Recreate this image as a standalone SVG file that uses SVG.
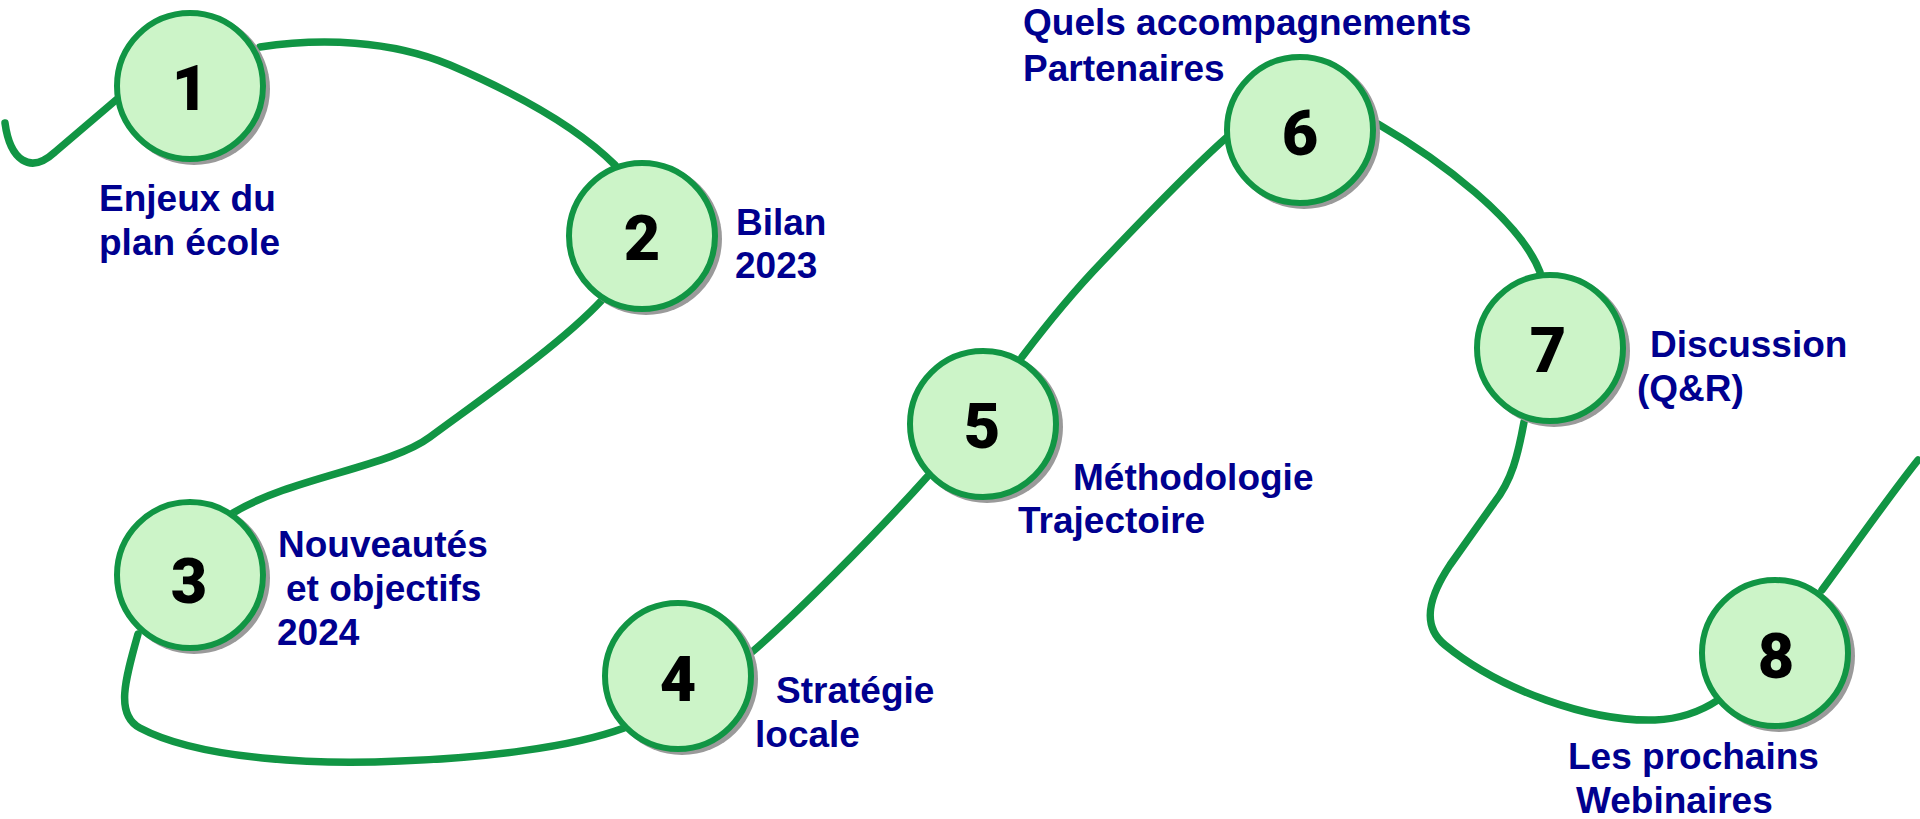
<svg xmlns="http://www.w3.org/2000/svg" width="1920" height="819" viewBox="0 0 1920 819">
<style>
.bg{fill:#ffffff}
.link{fill:none;stroke:#119544;stroke-width:7.5;stroke-linecap:round;stroke-linejoin:round}
.shadow{fill:#9a9a9a}
.node{fill:#ccf4c8;stroke:#119544;stroke-width:6}
.num{font-family:Roboto,"Liberation Sans",Arial,sans-serif;font-weight:900;font-size:63px;fill:#000000;text-anchor:middle}
.lbl{font-family:"Liberation Sans",Arial,sans-serif;font-weight:bold;font-size:37px;fill:#00008f}
</style>
<rect class="bg" x="0" y="0" width="1920" height="819"/>
<g id="connectors">
<path class="link" d="M 5,123 C 10,160 30,175 55,152 L 116,100"/>
<path class="link" d="M 260,47 C 320,38 390,40 450,65 C 520,95 580,130 615,165"/>
<path class="link" d="M 602,300 C 560,345 480,400 430,437 C 390,467 290,478 233,513"/>
<path class="link" d="M 138,634 C 125,680 115,715 140,728 C 200,760 320,765 400,761 C 480,758 570,748 624,728"/>
<path class="link" d="M 752,652 C 795,615 875,535 927,477"/>
<path class="link" d="M 1022,357 C 1050,320 1075,290 1102,262 C 1140,222 1190,170 1226,138"/>
<path class="link" d="M 1378,124 C 1440,160 1520,220 1540,272"/>
<path class="link" d="M 1524,422 C 1518,455 1512,480 1494,503 L 1450,565 C 1430,595 1420,625 1445,645 C 1500,690 1590,722 1655,720 C 1680,719 1700,712 1718,700"/>
<path class="link" d="M 1822,590 C 1850,552 1890,495 1918,460"/>
</g>
<g id="node1">
<circle class="shadow" cx="194" cy="89" r="76"/>
<circle class="node" cx="190" cy="86" r="73"/>
<text class="num" x="190" y="110">1</text>
<text class="lbl"><tspan x="99" y="211">Enjeux du</tspan><tspan x="99" y="255">plan école</tspan></text>
</g>
<g id="node2">
<circle class="shadow" cx="646" cy="239" r="76"/>
<circle class="node" cx="642" cy="236" r="73"/>
<text class="num" x="642" y="260">2</text>
<text class="lbl"><tspan x="736" y="235">Bilan</tspan><tspan x="735" y="278">2023</tspan></text>
</g>
<g id="node3">
<circle class="shadow" cx="194" cy="578" r="76"/>
<circle class="node" cx="190" cy="575" r="73"/>
<text class="num" x="189" y="603">3</text>
<text class="lbl"><tspan x="278" y="557">Nouveautés</tspan><tspan x="286" y="601">et objectifs</tspan><tspan x="277" y="645">2024</tspan></text>
</g>
<g id="node4">
<circle class="shadow" cx="682" cy="679" r="76"/>
<circle class="node" cx="678" cy="676" r="73"/>
<text class="num" x="678" y="701">4</text>
<text class="lbl"><tspan x="776" y="703">Stratégie</tspan><tspan x="755" y="747">locale</tspan></text>
</g>
<g id="node5">
<circle class="shadow" cx="987" cy="427" r="76"/>
<circle class="node" cx="983" cy="424" r="73"/>
<text class="num" x="982" y="448">5</text>
<text class="lbl"><tspan x="1073" y="490">Méthodologie</tspan><tspan x="1018" y="533">Trajectoire</tspan></text>
</g>
<g id="node6">
<circle class="shadow" cx="1304" cy="133" r="76"/>
<circle class="node" cx="1300" cy="130" r="73"/>
<text class="num" x="1300" y="155">6</text>
<text class="lbl"><tspan x="1023" y="35">Quels accompagnements</tspan><tspan x="1023" y="81">Partenaires</tspan></text>
</g>
<g id="node7">
<circle class="shadow" cx="1554" cy="351" r="76"/>
<circle class="node" cx="1550" cy="348" r="73"/>
<text class="num" x="1548" y="372">7</text>
<text class="lbl"><tspan x="1650" y="357">Discussion</tspan><tspan x="1637" y="401">(Q&amp;R)</tspan></text>
</g>
<g id="node8">
<circle class="shadow" cx="1779" cy="656" r="76"/>
<circle class="node" cx="1775" cy="653" r="73"/>
<text class="num" x="1776" y="678">8</text>
<text class="lbl"><tspan x="1568" y="769">Les prochains</tspan><tspan x="1576" y="813">Webinaires</tspan></text>
</g>
</svg>
